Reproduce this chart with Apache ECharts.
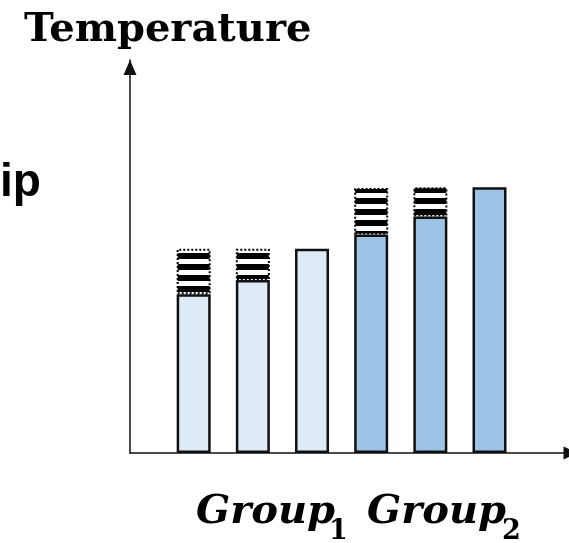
<!DOCTYPE html>
<html>
<head>
<meta charset="utf-8">
<script src="https://cdn.jsdelivr.net/npm/echarts@6/dist/echarts.min.js"></script>
<style>
html,body{margin:0;padding:0;background:#fff;}
#c{width:569px;height:543px;}
</style>
</head>
<body>
<div id="c"></div>
<script>
// ---- data ----
const categories = ['G1-a', 'G1-b', 'G1-c', 'G2-a', 'G2-b', 'G2-c'];
const groupOf = [1, 1, 1, 2, 2, 2];
const baseTemps = [40.4, 44.0, 52.0, 55.6, 60.2, 67.6];
const riseTemps = [11.6, 8.0, null, 11.8, 7.4, null];
const yTitle = 'Temperature';
const leftLabel = 'ip';
const groupLabels = ['Group', 'Group'];
const groupSubs = ['1', '2'];

// ---- styles ----
const groupColors = {1: '#DEEBF7', 2: '#9DC3E6'};

const pat = document.createElement('canvas');
pat.width = 8; pat.height = 11;
const pc = pat.getContext('2d');
pc.fillStyle = '#ffffff'; pc.fillRect(0, 0, 8, 11);
pc.fillStyle = '#000000'; pc.fillRect(0, 0, 8, 6);

const chart = echarts.init(document.getElementById('c'), null, {renderer: 'canvas'});

const baseData = baseTemps.map((v, i) => ({
  value: v,
  itemStyle: {color: groupColors[groupOf[i]]}
}));
const riseData = riseTemps.map(v => (v == null ? '-' : v));

const hidden = {axisLine: {show: false}, axisTick: {show: false}, axisLabel: {show: false}, splitLine: {show: false}};
const arrowLine = {show: true, lineStyle: {color: '#111', width: 1.5},
  symbol: ['none', 'triangle'], symbolSize: [13, 15]};

chart.setOption({
  animation: false,
  backgroundColor: '#ffffff',
  grid: [
    {left: 130, right: 0, top: 60, bottom: 90, containLabel: false},
    {left: 164.1, right: 49.9, top: 60, bottom: 90, containLabel: false}
  ],
  xAxis: [
    {type: 'value', gridIndex: 0, min: 0, max: 1,
      axisLine: Object.assign({}, arrowLine, {symbolOffset: [0, 2]}),
      axisTick: {show: false}, axisLabel: {show: false}, splitLine: {show: false}},
    Object.assign({type: 'category', gridIndex: 1, data: categories}, hidden)
  ],
  yAxis: [
    {type: 'value', gridIndex: 0, min: 0, max: 100,
      axisLine: Object.assign({}, arrowLine, {symbolOffset: [0, -7.5]}),
      axisTick: {show: false}, axisLabel: {show: false}, splitLine: {show: false}},
    Object.assign({type: 'value', gridIndex: 1, min: 0, max: 100}, hidden)
  ],
  series: [
    {
      type: 'bar', xAxisIndex: 1, yAxisIndex: 1, stack: 't', barWidth: 34, data: baseData,
      itemStyle: {borderColor: '#111', borderWidth: 2.5}
    },
    {
      type: 'bar', xAxisIndex: 1, yAxisIndex: 1, stack: 't', barWidth: 34, data: riseData,
      itemStyle: {color: {image: pat, repeat: 'repeat'}, borderColor: '#000', borderWidth: 2, borderType: 'dotted'}
    }
  ],
  graphic: [
    {type: 'text', left: 24, top: 11, style: {text: yTitle, font: 'bold 40px "DejaVu Serif"', fill: '#000'}},
    {type: 'text', left: 0, top: 160, style: {text: leftLabel, font: 'bold 46px "Liberation Sans"', fill: '#000'}},
    {type: 'text', left: 196, top: 493, style: {text: groupLabels[0], font: 'italic bold 40px "DejaVu Serif"', fill: '#000'}},
    {type: 'text', left: 329, top: 518, style: {text: groupSubs[0], font: 'bold 27px "DejaVu Serif"', fill: '#000'}},
    {type: 'text', left: 367, top: 493, style: {text: groupLabels[1], font: 'italic bold 40px "DejaVu Serif"', fill: '#000'}},
    {type: 'text', left: 502, top: 518, style: {text: groupSubs[1], font: 'bold 27px "DejaVu Serif"', fill: '#000'}}
  ]
});
</script>
</body>
</html>
